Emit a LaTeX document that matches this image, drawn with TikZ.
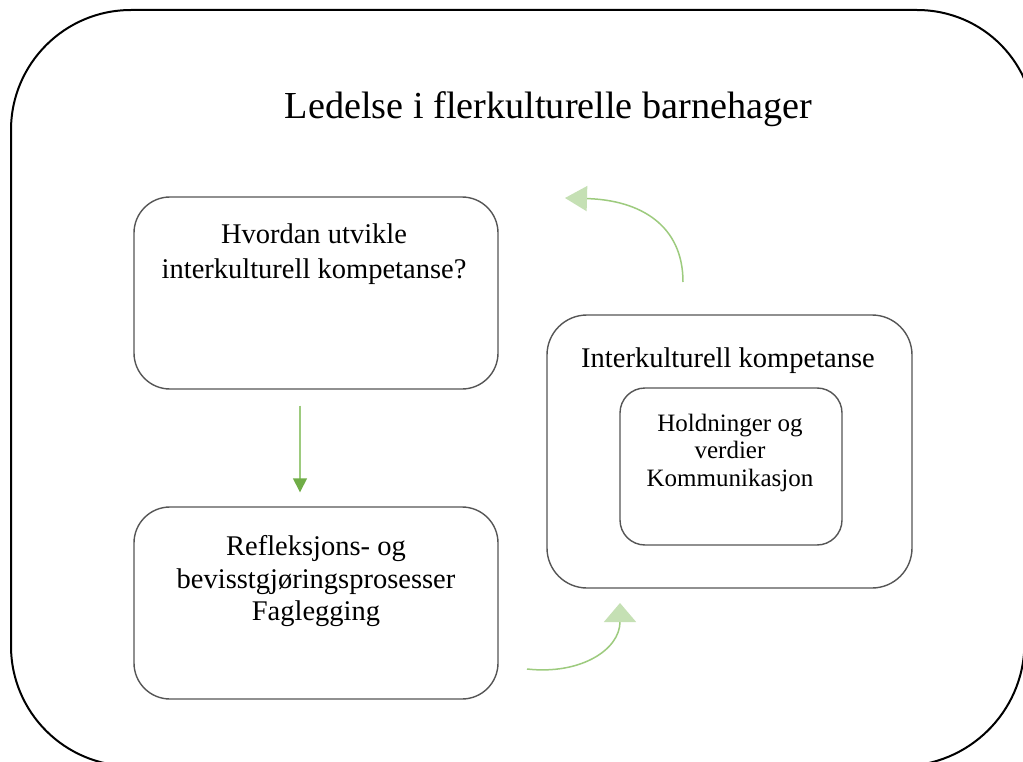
\documentclass[tikz,border=0pt]{standalone}
\usepackage{fontspec}
\setmainfont{Liberation Serif}
\usetikzlibrary{arrows.meta}
\definecolor{boxgray}{HTML}{555555}
\definecolor{linegreen}{HTML}{9DCB7E}
\definecolor{darkgreen}{HTML}{70AD47}
\definecolor{palegreen}{HTML}{C5E0B4}
\tikzset{
  frame/.style={draw=black, line width=2pt, rounded corners=120pt},
  roundbox/.style={draw=boxgray, line width=1.4pt, rounded corners=36pt},
  txt/.style={anchor=north, inner sep=0pt, align=center},
  titletxt/.style={txt, font=\fontsize{38.2}{45}\selectfont},
  bigtxt/.style={txt, font=\fontsize{28.5}{35}\selectfont},
  midtxt/.style={txt, font=\fontsize{28.5}{32.5}\selectfont},
  smalltxt/.style={txt, font=\fontsize{25}{27.5}\selectfont},
  downarrow/.style={draw=linegreen, line width=1.5pt, -{Triangle[length=14pt,width=14pt,color=darkgreen]}},
  curvearrow/.style={draw=linegreen, line width=1.5pt},
}
\begin{document}
\begin{tikzpicture}[x=1pt,y=-1pt]
\useasboundingbox (0,0) rectangle (1023,762);
\clip (0,0) rectangle (1023,762);
\fill[white] (0,0) rectangle (1023,762);
\draw[frame] (11,10) -- (1037,10) -- (1022,766) -- (11,766) -- cycle;
\node[titletxt] (title) at (548.5,91) {Ledelse i flerkulturelle barnehager};

\node[roundbox, minimum width=364pt, minimum height=192pt] (box1) at (316,293) {};
\node[bigtxt] (t1) at (314,223.3) {Hvordan utvikle\\interkulturell kompetanse?};

\node[roundbox, minimum width=364pt, minimum height=192pt] (box2) at (316,603) {};
\node[midtxt] (t2) at (316,535.3) {Refleksjons- og\\bevisstgjøringsprosesser\\Faglegging};

\node[roundbox, rounded corners=40pt, minimum width=365pt, minimum height=273pt] (box3) at (729.5,451.5) {};
\node[bigtxt] (t3) at (728,347.3) {Interkulturell kompetanse};

\node[roundbox, rounded corners=25pt, minimum width=222pt, minimum height=157pt] (box4) at (731,466.5) {};
\node[smalltxt] (t4) at (730,413.5) {Holdninger og\\verdier\\Kommunikasjon};

\draw[downarrow] ([xshift=-16pt,yshift=-16pt]box1.south) -- ([xshift=-16pt,yshift=14pt]box2.north);

\coordinate (c1s) at (683,282);
\coordinate (c1e) at (565,198);
\draw[curvearrow, -{Triangle[length=22pt,width=25pt,color=palegreen]}] (c1s) .. controls (683,225) and (640,200) .. (c1e);

\coordinate (c2s) at (527,669);
\coordinate (c2e) at (620,603);
\draw[curvearrow, -{Triangle[length=19pt,width=32pt,color=palegreen]}] (c2s) .. controls (580,675) and (620,650) .. (c2e);
\end{tikzpicture}
\end{document}
